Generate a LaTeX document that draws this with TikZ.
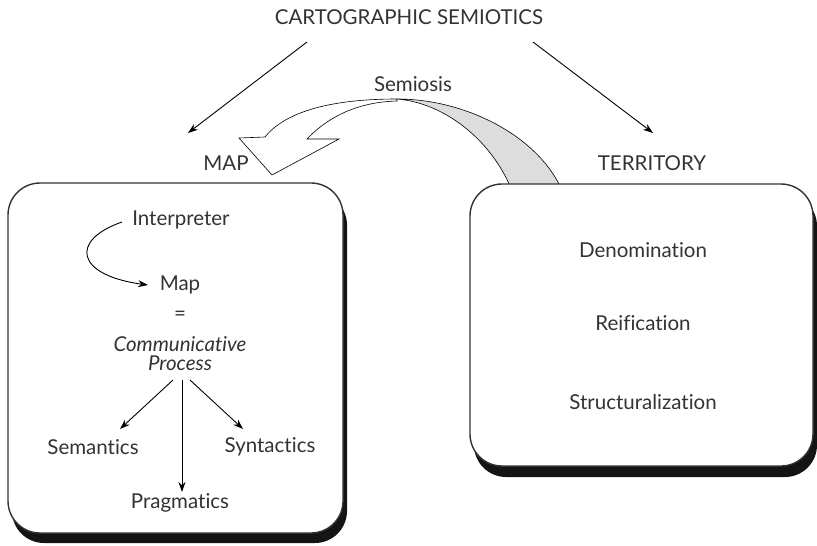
\documentclass[tikz,border=0pt]{standalone}
\usepackage{fontspec}
\setmainfont{Lato}[Ligatures={NoCommon,NoRequired}]
\usetikzlibrary{arrows.meta}
\definecolor{ink}{HTML}{333333}
\definecolor{ribbon}{HTML}{DDDDDD}
\begin{document}
\begin{tikzpicture}[x=1pt,y=-1pt,
  lbl/.style={text=ink,font=\fontsize{20.5}{23}\selectfont,inner sep=0pt,align=center},
  arr/.style={draw=black,line width=0.9pt,-{Stealth[length=10pt,width=7pt]}},
  panel/.style={draw=ink,line width=1.4pt,fill=white,rounded corners=32pt},
  panelshadow/.style={fill=black!92,rounded corners=32pt},
  band/.style={draw=black,line width=0.6pt},
]
\useasboundingbox (0,0) rectangle (817,546);

% twisted ribbon arrow (Semiosis), behind the panels
\draw[band,fill=ribbon] (397,99) .. controls (465,99) and (535,135) .. (560,186)
  -- (510,186) .. controls (490,140) and (445,103) .. (397,99) -- cycle;
\draw[band,fill=white] (397,99) .. controls (330,99) and (285,112) .. (265,137)
  -- (239,138) -- (272,175) -- (339,139) -- (307,139)
  .. controls (330,115) and (360,102) .. (397,101) -- cycle;

% panels with drop shadows
\fill[panelshadow] (12,193) rectangle (347,543);
\draw[panel] (8,183) rectangle (343,533);
\fill[panelshadow] (474,194) rectangle (817,477);
\draw[panel] (470,184) rectangle (813,466);

% headings
\node[lbl] (title) at (409,17) {CARTOGRAPHIC SEMIOTICS};
\node[lbl] (semiosis) at (413,84) {Semiosis};
\node[lbl] (maplbl) at (226,163) {MAP};
\node[lbl] (terrlbl) at (652,163) {TERRITORY};

\coordinate (tl) at (307,42);
\coordinate (tr) at (533,42);
\coordinate (ml) at (188,133);
\coordinate (mr) at (653,133);
\draw[arr] (tl) -- (ml);
\draw[arr] (tr) -- (mr);

% map panel
\node[lbl] (interp) at (181,220) {Interpreter};
\node[lbl] (mapn) at (180,285) {Map};
\node[lbl] (eq) at (180,316) {=};
\node[lbl,font=\fontsize{20.5}{19}\selectfont\itshape] (comm) at (180,354) {Communicative\\Process};
\node[lbl] (sem) at (93,447) {Semantics};
\node[lbl] (syn) at (270,447) {Syntactics};
\node[lbl] (prag) at (180,503) {Pragmatics};

\coordinate (i0) at (122,222);
\coordinate (i1) at (148,285);
\coordinate (c0) at (173,380);
\coordinate (c1) at (182,380);
\coordinate (c2) at (190,380);
\coordinate (s0) at (120,429);
\coordinate (p0) at (182,492);
\coordinate (y0) at (243,429);
\draw[arr] (i0) .. controls (70,240) and (75,275) .. (i1);
\draw[arr] (c0) -- (s0);
\draw[arr] (c1) -- (p0);
\draw[arr] (c2) -- (y0);

% territory panel
\node[lbl] (denom) at (643,250) {Denomination};
\node[lbl] (reif) at (643,323) {Reification};
\node[lbl] (struct) at (643,402) {Structuralization};
\end{tikzpicture}
\end{document}
